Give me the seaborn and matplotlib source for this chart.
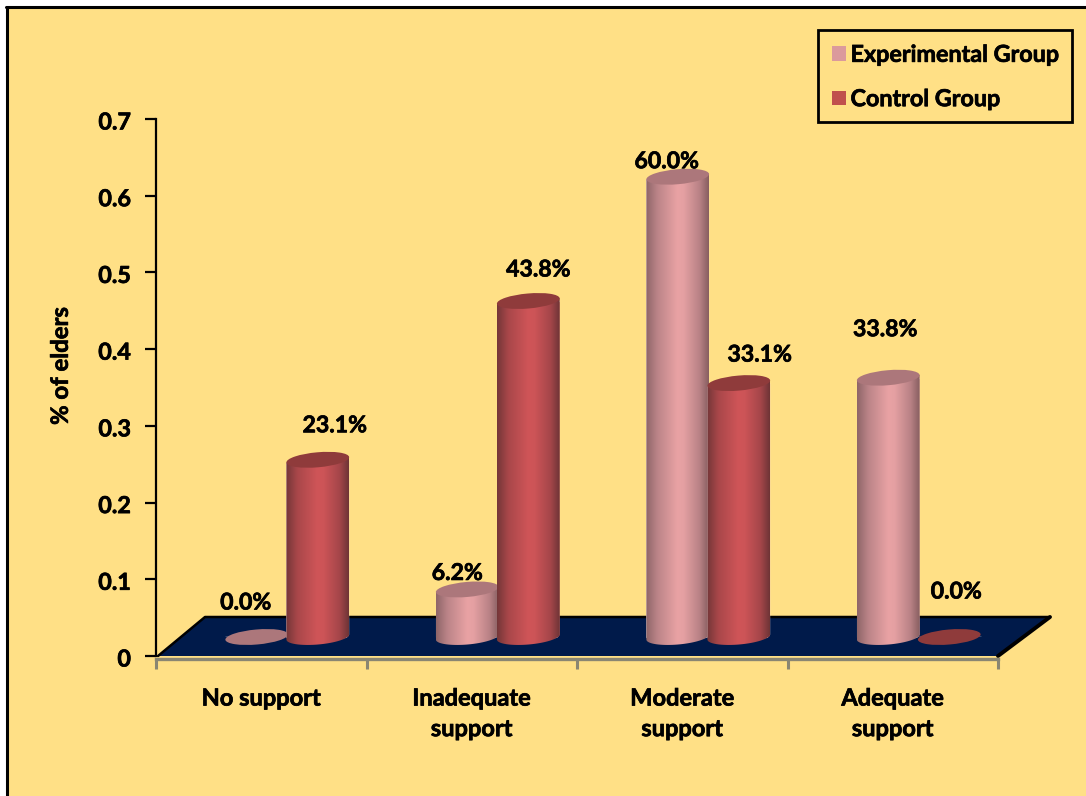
import numpy as np
import pandas as pd
import matplotlib
matplotlib.use("Agg")
import matplotlib.pyplot as plt
import matplotlib.patheffects as pe
import seaborn as sns
from matplotlib.colors import LinearSegmentedColormap
from matplotlib.lines import Line2D
from matplotlib.patches import Ellipse, Polygon, Rectangle
from matplotlib.path import Path
from matplotlib.text import Text
from matplotlib.transforms import Affine2D, IdentityTransform

# Data
categories = ["No support", "Inadequate\nsupport", "Moderate\nsupport", "Adequate\nsupport"]
groups = ["Experimental Group", "Control Group"]
experimental = [0.0, 0.062, 0.600, 0.338]
control = [0.231, 0.438, 0.331, 0.0]
y_ticks = [0, 0.1, 0.2, 0.3, 0.4, 0.5, 0.6, 0.7]
y_tick_labels = ["0", "0.1", "0.2", "0.3", "0.4", "0.5", "0.6", "0.7"]

# Style
W, H = 1086, 796
PAGE = "#FFE086"
FLOOR = "#001A4A"
GREY = "#8A8672"
palette = {"Experimental Group": "#DB9A9C", "Control Group": "#C0504D"}
shades = {
    "Experimental Group": ["#8E6568", "#BB8488", "#E9A2A4", "#E4A0A2", "#B98286", "#875E60"],
    "Control Group": ["#743638", "#A9474A", "#CF5558", "#CC5457", "#A5464A", "#6E3436"],
}
caps = {"Experimental Group": "#AC777B", "Control Group": "#8F3B3B"}
label_offsets = {
    "Experimental Group": [(-11, 34), (-10, 16), (-11, 15), (-3, 48)],
    "Control Group": [(17, 34), (10, 31), (21, 28), (7, 45)],
}
FONT = "Lato"
TILT = 5.0
CAP_MINOR = 7.5

sns.set_theme(style="white")
plt.rcParams["font.family"] = [FONT, "DejaVu Sans"]
plt.rcParams["font.weight"] = "bold"

fig = plt.figure(figsize=(W / 100, H / 100), dpi=100, facecolor="white")
# Layout helper working in pixels measured from the top-left corner
page_px = Affine2D().scale(1, -1).translate(0, H)


def axes_rect(left, top, right, bottom):
    return [left / W, 1 - bottom / H, (right - left) / W, (bottom - top) / H]


# Page background with its black top and left rules
fig.add_artist(Rectangle((7, 7), W - 7, H - 7, transform=page_px, facecolor=PAGE, edgecolor="none", zorder=-5))
fig.add_artist(Line2D([7, 7], [796, 7], transform=page_px, color="black", lw=2.2, zorder=-4))
fig.add_artist(Line2D([6, 1086], [7, 7], transform=page_px, color="black", lw=2.2, zorder=-4))

# Axes carrying the scales and the floor
ax = fig.add_axes(axes_rect(156, 119, 998, 656), facecolor="none")
ax.set_xlim(-0.5, 3.5)
ax.set_ylim(0, 0.7)

floor_xy = [(158, 656), (205, 617), (1050, 617), (998, 656)]
fig.add_artist(Polygon(floor_xy, closed=True, transform=page_px, facecolor=FLOOR, edgecolor="none", zorder=-3))
fig.add_artist(Line2D([158, 205, 1050], [656, 617, 617], transform=page_px, color="black", lw=1.8, zorder=-2))
fig.add_artist(Line2D([1050, 998], [617, 656], transform=page_px, color="black", lw=2.8, zorder=-2))

for side in ("top", "right"):
    ax.spines[side].set_visible(False)
ax.spines["left"].set_color("black")
ax.spines["left"].set_linewidth(1.6)
ax.spines["bottom"].set_color(GREY)
ax.spines["bottom"].set_linewidth(2.4)
ax.spines["bottom"].set_position(("outward", 2))

ax.set_xticks(np.arange(-0.5, 4.0, 1.0))
ax.set_xticklabels([])
ax.set_xticks(np.arange(4), labels=categories, minor=True)
ax.tick_params(axis="x", which="major", length=7, width=2.2, color=GREY, bottom=True)
ax.tick_params(axis="x", which="minor", length=0, pad=20, labelsize=17, labelcolor="black")
ax.set_yticks(y_ticks, labels=y_tick_labels)
ax.tick_params(axis="y", length=8, width=1.6, color="black", left=True, pad=10, labelsize=16.8, labelcolor="black")
for lab in ax.get_xticklabels(minor=True):
    lab.set_fontweight("bold")
    lab.set_linespacing(1.4)
for lab in ax.get_yticklabels():
    lab.set_fontweight("bold")
    lab.set_transform(lab.get_transform() + Affine2D().translate(0, -2))
ax.set_ylabel("% of elders", fontsize=17.2, fontweight="bold", color="black", labelpad=19, y=0.54)

# Bars live on a second set of axes, pushed back onto the floor
bar_ax = fig.add_axes(axes_rect(156 + 26, 119 - 19, 998 + 26, 656 - 19), facecolor="none")
table = pd.DataFrame({
    "category": categories * 2,
    "group": [groups[0]] * len(categories) + [groups[1]] * len(categories),
    "share": experimental + control,
})
sns.barplot(data=table, x="category", y="share", hue="group", hue_order=groups, order=categories,
            palette=palette, width=0.58, saturation=1, ax=bar_ax, legend=True, errorbar=None)
handles, labels = bar_ax.get_legend_handles_labels()
bar_ax.get_legend().remove()
xlim, ylim = (-0.5, 3.5), (0, 0.7)
bar_ax.set_xlim(xlim)
bar_ax.set_ylim(ylim)
bar_ax.axis("off")
fig.canvas.draw()


def tilted_points(cx, cy, major, minor, angles):
    c, s = np.cos(np.radians(TILT)), np.sin(np.radians(TILT))
    u, v = major * np.cos(angles), minor * np.sin(angles)
    return np.column_stack([cx + u * c - v * s, cy + u * s + v * c])


# Neighbouring cylinders overlap a little
BAR_WIDTH = 0.299

order = [(g, i) for g in groups for i in range(len(categories))]
for n, (bar, (group, idx)) in enumerate(zip(bar_ax.patches, order)):
    centre, value = bar.get_x() + bar.get_width() / 2, bar.get_height()
    bar.set_x(centre - BAR_WIDTH / 2)
    bar.set_width(BAR_WIDTH)
    x0, width = bar.get_x(), BAR_WIDTH
    z = 2 + n * 0.1
    (bx, by), (rx, _) = bar_ax.transData.transform([(centre, 0), (x0 + width, 0)])
    _, ty = bar_ax.transData.transform((centre, value))
    major = rx - bx
    if value > 0:
        # Cylinder outline: rounded bottom plus straight sides
        lower = tilted_points(bx, by, major, CAP_MINOR, np.linspace(np.pi, 2 * np.pi, 60))
        upper = tilted_points(bx, ty, major, CAP_MINOR, np.array([0.0, np.pi]))
        body = Path(np.vstack([lower, upper, lower[:1]]), closed=True)
        bar.set_clip_box(fig.bbox)
        bar.set_clip_path(body, IdentityTransform())
        bar.set_zorder(z)
        cmap = LinearSegmentedColormap.from_list(
            group, list(zip([0, 0.18, 0.5, 0.6, 0.85, 1], shades[group])))
        im = bar_ax.imshow(np.linspace(0, 1, 256)[None, :], cmap=cmap, aspect="auto", vmin=0, vmax=1,
                           extent=(x0, x0 + width, -0.03, value + 0.03), zorder=z + 0.01, interpolation="bilinear")
        im.set_clip_box(fig.bbox)
        im.set_clip_path(body, IdentityTransform())
    cap = Ellipse((bx, ty), 2 * major, 2 * CAP_MINOR, angle=TILT, transform=IdentityTransform(),
                  facecolor=caps[group], edgecolor="none", zorder=z + 0.02)
    bar_ax.add_patch(cap)
    cap.set_transform(IdentityTransform())
    cap.set_clip_on(False)
    dx, dy = label_offsets[group][idx]
    bar_ax.annotate(f"{value * 100:.1f}%", xy=(centre, value), xytext=(dx, dy),
                    textcoords="offset pixels", ha="center", va="center", fontsize=16.6,
                    fontweight="bold", color="black", zorder=10, annotation_clip=False)
bar_ax.set_xlim(xlim)
bar_ax.set_ylim(ylim)

# Legend box
fig.add_artist(Rectangle((818, 30), 254, 92, transform=page_px, facecolor="none", edgecolor="black", lw=2.0, zorder=5))
leg = fig.legend(handles, labels, loc="upper left", bbox_to_anchor=(816 / W, 1 - 28.5 / H), frameon=False,
                 prop={"family": FONT, "weight": "bold", "size": 16.8}, handlelength=0.6, handleheight=0.6,
                 handletextpad=0.18, labelspacing=1.0, borderpad=0.2, labelcolor="black")
for handle in leg.get_patches():
    handle.set_edgecolor("none")

# A fine outline thickens the bold type
for text in fig.findobj(Text):
    text.set_path_effects([pe.withStroke(linewidth=0.5, foreground="black")])

fig.savefig("out.png", dpi=100, facecolor=fig.get_facecolor())
